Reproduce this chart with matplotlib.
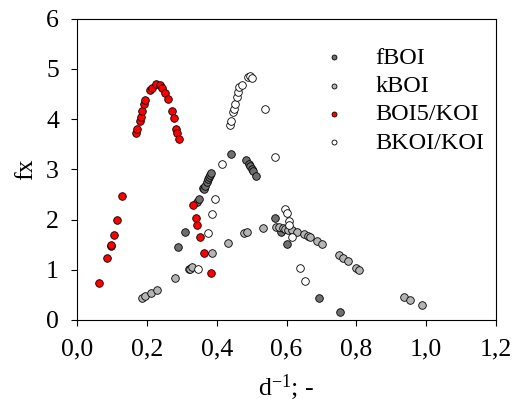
import matplotlib
matplotlib.use("Agg")
import matplotlib.pyplot as plt

plt.rcParams["font.family"] = ["Liberation Serif", "DejaVu Serif"]
plt.rcParams["mathtext.fontset"] = "custom"
plt.rcParams["mathtext.rm"] = "Liberation Serif"
plt.rcParams["mathtext.it"] = "Liberation Serif:italic"

# fBOI
fboi_x = [0.290, 0.309, 0.345, 0.348, 0.362, 0.364, 0.366, 0.371, 0.375, 0.378,
          0.382, 0.384, 0.442, 0.483, 0.492, 0.495, 0.500, 0.505, 0.513,
          0.568, 0.584, 0.600, 0.694, 0.752]
fboi_y = [1.46, 1.75, 2.35, 2.40, 2.63, 2.61, 2.67, 2.75, 2.80, 2.85,
          2.89, 2.93, 3.31, 3.18, 3.10, 3.07, 3.01, 2.97, 2.87,
          2.03, 1.75, 1.51, 0.43, 0.16]

# kBOI
kboi_x = [0.186, 0.195, 0.213, 0.230, 0.281, 0.320, 0.324, 0.330, 0.386, 0.432,
          0.478, 0.488, 0.532, 0.569, 0.578, 0.589, 0.595, 0.605, 0.616, 0.630,
          0.650, 0.661, 0.668, 0.688, 0.702, 0.749, 0.761, 0.775, 0.799, 0.808,
          0.937, 0.953, 0.989]
kboi_y = [0.43, 0.47, 0.53, 0.60, 0.83, 1.01, 1.02, 1.05, 1.34, 1.54,
          1.73, 1.75, 1.83, 1.85, 1.85, 1.83, 1.82, 1.80, 1.79, 1.76,
          1.71, 1.68, 1.65, 1.58, 1.51, 1.29, 1.23, 1.17, 1.04, 0.99,
          0.45, 0.39, 0.29]

# BOI5/KOI
boi5_x = [0.062, 0.087, 0.097, 0.098, 0.106, 0.115, 0.130,
          0.170, 0.173, 0.180, 0.182, 0.186, 0.193, 0.196, 0.210, 0.215, 0.226,
          0.238, 0.244, 0.253, 0.260, 0.272, 0.277, 0.283, 0.287, 0.291,
          0.332, 0.340, 0.344, 0.353, 0.365, 0.383]
boi5_y = [0.73, 1.23, 1.47, 1.49, 1.70, 1.99, 2.46,
          3.73, 3.80, 3.97, 4.04, 4.15, 4.29, 4.37, 4.58, 4.62, 4.69,
          4.67, 4.61, 4.51, 4.39, 4.15, 4.02, 3.81, 3.72, 3.61,
          2.29, 2.02, 1.89, 1.65, 1.34, 0.94]

# BKOI/KOI
bkoi_x = [0.346, 0.374, 0.386, 0.394, 0.415, 0.438, 0.440, 0.446, 0.449, 0.452,
          0.457, 0.460, 0.465, 0.472, 0.490, 0.495, 0.502, 0.537, 0.568,
          0.597, 0.600, 0.606, 0.608, 0.616, 0.639, 0.654]
bkoi_y = [1.01, 1.73, 2.10, 2.41, 3.10, 3.89, 3.96, 4.13, 4.19, 4.30,
          4.43, 4.53, 4.63, 4.67, 4.83, 4.85, 4.81, 4.20, 3.25,
          2.21, 2.12, 1.97, 1.89, 1.65, 1.03, 0.77]

x_ticks = [0.0, 0.2, 0.4, 0.6, 0.8, 1.0, 1.2]
x_tick_labels = ["0,0", "0,2", "0,4", "0,6", "0,8", "1,0", "1,2"]
y_ticks = [0, 1, 2, 3, 4, 5, 6]

fig = plt.figure(figsize=(5.2, 4.05), dpi=100)
ax = fig.add_axes([77 / 520, 1 - 320 / 405, (496 - 77) / 520, (320 - 18.5) / 405])

common = dict(s=30, edgecolors="black", linewidths=0.6, zorder=3)
ax.scatter(fboi_x, fboi_y, c="#6e6e6e", label="fBOI", **common)
ax.scatter(kboi_x, kboi_y, c="#b4b4b4", label="kBOI", **common)
ax.scatter(boi5_x, boi5_y, c="#ff0000", label="BOI5/KOI", **common)
ax.scatter(bkoi_x, bkoi_y, c="#ffffff", label="BKOI/KOI", **common)

ax.set_xlim(0, 1.2)
ax.set_ylim(0, 6)
ax.set_xticks(x_ticks)
ax.set_xticklabels(x_tick_labels)
ax.set_yticks(y_ticks)
ax.tick_params(direction="out", length=4, width=0.8, labelsize=18.5, pad=9,
               right=False, top=False)
for sp in ax.spines.values():
    sp.set_linewidth(0.8)

ax.set_xlabel(r"$\mathrm{d}^{-1}$; -", fontsize=18.5, labelpad=9)
ax.set_ylabel("fx", fontsize=18.5, labelpad=6.5)

leg = ax.legend(loc="upper left", bbox_to_anchor=(0.585, 0.907), frameon=False,
                fontsize=17.5, markerscale=0.65, handlelength=1.0,
                handletextpad=1.19, labelspacing=0.26, borderpad=0.0,
                borderaxespad=0.0)

fig.savefig("out.png", dpi=100)
